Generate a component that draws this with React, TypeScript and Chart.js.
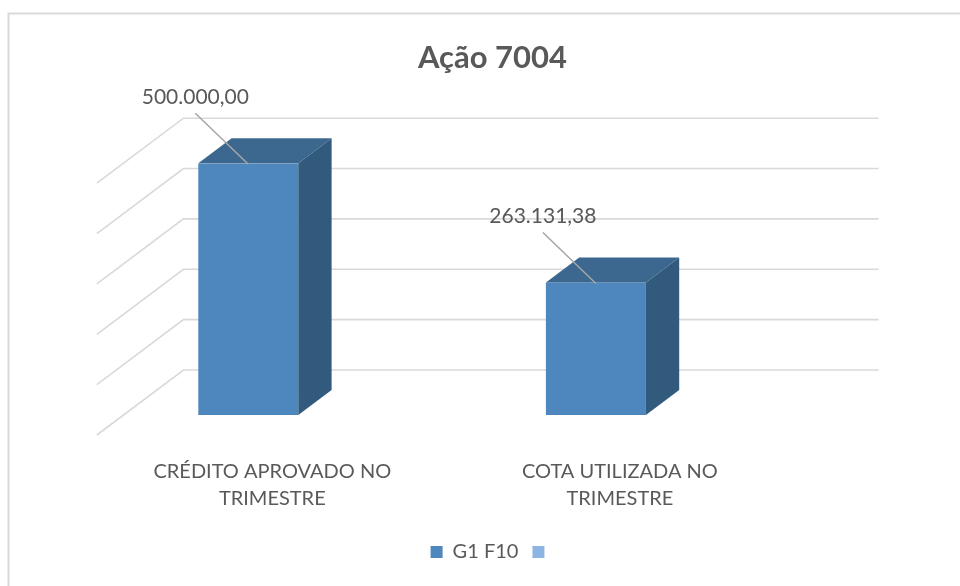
import React, { useEffect, useRef } from "react";
import { Chart, registerables } from "chart.js";

Chart.register(...registerables);

// ---- data ----
const chartTitle = "Ação 7004";
const categories: string[][] = [
  ["CRÉDITO APROVADO NO", "TRIMESTRE"],
  ["COTA UTILIZADA NO", "TRIMESTRE"],
];
const seriesName = "G1 F10";
const seriesValues: number[] = [500000, 263131.38];
const secondSeriesName = "";
const secondSeriesValues: (number | null)[] = [null, null];
const yMin = 0;
const yMax = 500000;
const yStep = 100000;

// ---- style ----
const FONT = "Lato";
const TEXT = "#595959";
const FRONT = "#4E87BE";
const TOP = "#3C6890";
const SIDE = "#325A7C";
const LIGHT = "#8EB4E3";
const GRID = "#D9D9D9";
const K = 86.6 / 65; // horizontal shift per unit of depth
const BAR_DEPTH = 25;
const WALL_BACK = 45;
const WALL_FRONT = -20;
const WALL_SHIFT = 49;
const PAD_LEFT = 25;

function fmtBR(v: number): string {
  const fixed = v.toFixed(2);
  const [intPart, dec] = fixed.split(".");
  const withDots = intPart.replace(/\B(?=(\d{3})+(?!\d))/g, ".");
  return `${withDots},${dec}`;
}

const threeD = {
  id: "threeD",
  beforeDraw(chart: any) {
    const ctx = chart.ctx;
    ctx.save();
    ctx.fillStyle = "#ffffff";
    ctx.fillRect(0, 0, chart.width, chart.height);
    ctx.strokeStyle = GRID;
    ctx.lineWidth = 2;
    ctx.strokeRect(8.5, 13.5, chart.width + 50, chart.height + 50);
    ctx.restore();
  },
  beforeDatasetsDraw(chart: any) {
    const { ctx, chartArea: a } = chart;
    const y = chart.scales.y;
    const bx = WALL_BACK * K, by = -WALL_BACK;
    const fx = WALL_FRONT * K, fy = -WALL_FRONT;
    const x0 = a.left + WALL_SHIFT, x1 = a.right + WALL_SHIFT;
    ctx.save();
    ctx.strokeStyle = GRID;
    ctx.lineWidth = 1.6;
    y.ticks.forEach((t: any) => {
      const py = y.getPixelForValue(t.value);
      ctx.beginPath();
      ctx.moveTo(x0 + fx, py + fy);
      ctx.lineTo(x0 + bx, py + by);
      ctx.lineTo(x1 + bx, py + by);
      ctx.stroke();
    });
    ctx.restore();
  },
  afterDatasetsDraw(chart: any) {
    const ctx = chart.ctx;
    const meta = chart.getDatasetMeta(0);
    const dx = BAR_DEPTH * K, dy = -BAR_DEPTH;
    ctx.save();
    meta.data.forEach((bar: any, i: number) => {
      const { x, y, base, width } = bar.getProps(["x", "y", "base", "width"], true);
      const l = x - width / 2, r = x + width / 2;
      // top face
      ctx.fillStyle = TOP;
      ctx.beginPath();
      ctx.moveTo(l, y);
      ctx.lineTo(r, y);
      ctx.lineTo(r + dx, y + dy);
      ctx.lineTo(l + dx, y + dy);
      ctx.closePath();
      ctx.fill();
      // side face
      ctx.fillStyle = SIDE;
      ctx.beginPath();
      ctx.moveTo(r, y);
      ctx.lineTo(r + dx, y + dy);
      ctx.lineTo(r + dx, base + dy);
      ctx.lineTo(r, base);
      ctx.closePath();
      ctx.fill();
      // leader line
      ctx.strokeStyle = "#A6A6A6";
      ctx.lineWidth = 1.5;
      ctx.beginPath();
      ctx.moveTo(x - 53, y - 50);
      ctx.lineTo(x, y + 1);
      ctx.stroke();
      // data label
      ctx.fillStyle = TEXT;
      ctx.font = `21px ${FONT}`;
      ctx.textAlign = "center";
      ctx.textBaseline = "middle";
      ctx.fillText(fmtBR(seriesValues[i]), x - 53, y - 66);
    });
    ctx.restore();
  },
};

export default function App() {
  const ref = useRef<HTMLCanvasElement | null>(null);
  useEffect(() => {
    if (!ref.current) return;
    const hidden = (w: number, pos: string) => ({
      type: "linear" as const,
      position: pos,
      min: yMin,
      max: yMax,
      display: true,
      ticks: { display: false, stepSize: yStep },
      grid: { display: false, drawTicks: false },
      border: { display: false },
      afterFit: (s: any) => {
        s.width = w;
      },
    });
    const chart = new Chart(ref.current, {
      type: "bar",
      data: {
        labels: categories,
        datasets: [
          {
            label: seriesName,
            data: seriesValues,
            backgroundColor: FRONT,
            borderWidth: 0,
            barPercentage: 0.2877,
            categoryPercentage: 1,
            grouped: false,
            yAxisID: "y",
          },
          {
            label: secondSeriesName,
            data: secondSeriesValues,
            backgroundColor: LIGHT,
            borderWidth: 0,
            barPercentage: 0.2877,
            categoryPercentage: 1,
            grouped: false,
            yAxisID: "y",
          },
        ],
      },
      options: {
        responsive: false,
        animation: false,
        events: [],
        layout: { padding: { left: PAD_LEFT, right: 0, top: 0, bottom: 14 } },
        scales: {
          x: {
            type: "category",
            offset: true,
            grid: { display: false, drawTicks: false },
            border: { display: false },
            ticks: {
              font: { family: FONT, size: 20, lineHeight: "27px" },
              color: TEXT,
              padding: 43,
              labelOffset: 24,
              maxRotation: 0,
              autoSkip: false,
            },
            afterFit: (s: any) => {
              s.height = 113;
            },
          },
          y: hidden(74.5 - PAD_LEFT, "left"),
          yR: hidden(190.3, "right"),
        } as any,
        plugins: {
          title: {
            display: true,
            text: chartTitle,
            color: TEXT,
            font: { family: FONT, size: 31, weight: "bold", lineHeight: 1.2 },
            padding: { top: 39, bottom: 87 },
          },
          legend: {
            position: "bottom",
            labels: {
              boxWidth: 12,
              boxHeight: 12,
              padding: 14,
              color: TEXT,
              font: { family: FONT, size: 20 },
            },
          },
          tooltip: { enabled: false },
        },
      },
      plugins: [threeD],
    } as any);
    return () => chart.destroy();
  }, []);
  return (
    <div style={{ position: "absolute", left: 0, top: 0, width: 960, height: 586 }}>
      <canvas ref={ref} width={960} height={586} />
    </div>
  );
}
